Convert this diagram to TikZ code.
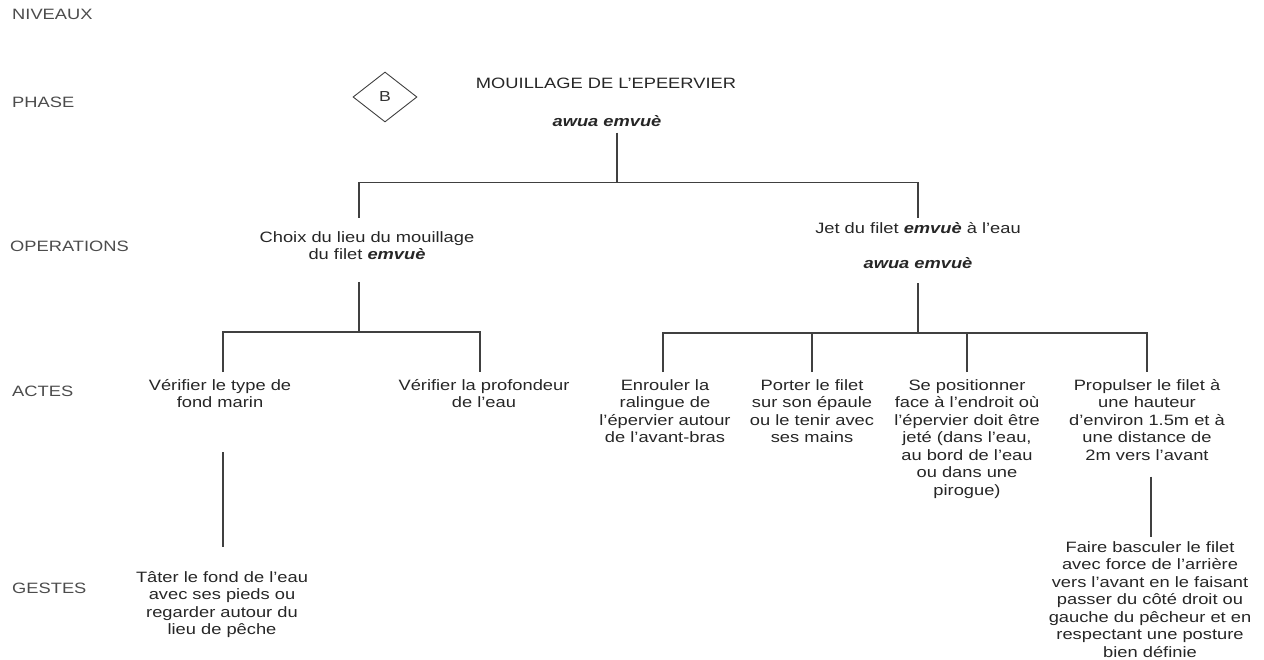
\documentclass[tikz,border=0pt]{standalone}
\usepackage{fontspec}
\setmainfont[FakeStretch=1.22]{Liberation Sans}
\usetikzlibrary{shapes.geometric}
\newcommand{\emv}[1]{\textbf{\textit{#1}}}

\begin{document}
\begin{tikzpicture}[x=1pt, y=-1pt,
    txt/.style={font=\fontsize{15}{17.5}\selectfont, text=black!85, align=center, inner sep=0pt, anchor=north},
    niveau/.style={font=\fontsize{15}{17.5}\selectfont, text=black!70, inner sep=0pt, anchor=north west},
    link/.style={draw=black!75, line width=1.2pt}]
  \useasboundingbox (0,0) rectangle (1264,660);

  % 1. Niveaux (colonne de gauche)
  \node[niveau] (niv)  at (12,9)   {NIVEAUX};
  \node[niveau] (lph)  at (12,97)  {PHASE};
  \node[niveau] (lop)  at (10,241) {OPERATIONS};
  \node[niveau] (lac)  at (12,386) {ACTES};
  \node[niveau] (lge)  at (12,583) {GESTES};

  % 2. Phase
  \node[diamond, draw=black!75, line width=0.9pt, minimum width=64pt, minimum height=50pt,
        inner sep=0pt, font=\fontsize{14.5}{16}\selectfont, text=black!80] (ph) at (385,97) {B};
  \node[txt] (titre) at (606,78)  {MOUILLAGE DE L'EPEERVIER};
  \node[txt] (awua)  at (607,115) {\emv{awua emvuè}};

  % 3. Operations
  \node[txt] (opA) at (367,231) {Choix du lieu du mouillage\\du filet \emv{emvuè}};
  \node[txt] (opB) at (918,222) {Jet du filet \emv{emvuè} à l'eau\\[18pt]\emv{awua emvuè}};

  % 4. Actes
  \node[txt] (a1) at (220,379)  {Vérifier le type de\\fond marin};
  \node[txt] (a2) at (484,379)  {Vérifier la profondeur\\de l'eau};
  \node[txt] (a3) at (665,379)  {Enrouler la\\ralingue de\\l'épervier autour\\de l'avant-bras};
  \node[txt] (a4) at (812,379)  {Porter le filet\\sur son épaule\\ou le tenir avec\\ses mains};
  \node[txt] (a5) at (967,379)  {Se positionner\\face à l'endroit où\\l'épervier doit être\\jeté (dans l'eau,\\au bord de l'eau\\ou dans une\\pirogue)};
  \node[txt] (a6) at (1147,379) {Propulser le filet à\\une hauteur\\d'environ 1.5m et à\\une distance de\\2m vers l'avant};

  % 5. Gestes
  \node[txt] (g1) at (222,571)  {Tâter le fond de l'eau\\avec ses pieds ou\\regarder autour du\\lieu de pêche};
  \node[txt] (g2) at (1150,541) {Faire basculer le filet\\avec force de l'arrière\\vers l'avant en le faisant\\passer du côté droit ou\\gauche du pêcheur et en\\respectant une posture\\bien définie};

  % 6. Liaisons
  \draw[link] ([xshift=10pt,yshift=-6pt]awua.south) -- ++(0,50) coordinate (j0);
  \draw[link] ([xshift=-8pt,yshift=13pt]opA.north) |- (j0) -| ([yshift=4pt]opB.north);

  \draw[link] ([xshift=-8pt,yshift=-22pt]opA.south) -- ++(0,50) coordinate (j1);
  \draw[link] ([xshift=3pt,yshift=7pt]a1.north) |- (j1) -| ([xshift=-4pt,yshift=7pt]a2.north);

  \draw[link] ([yshift=-14pt]opB.south) -- ++(0,50) coordinate (j2);
  \draw[link] ([xshift=-2pt,yshift=7pt]a3.north) |- (j2) -| ([yshift=7pt]a6.north);
  \draw[link] ([yshift=7pt]a4.north) -- (a4.north |- j2);
  \draw[link] ([yshift=7pt]a5.north) -- (a5.north |- j2);

  \draw[link] ([xshift=3pt,yshift=-44pt]a1.south) -- ([xshift=1pt,yshift=24pt]g1.north);
  \draw[link] ([xshift=4pt,yshift=-16pt]a6.south) -- ([xshift=1pt,yshift=4pt]g2.north);
\end{tikzpicture}
\end{document}
